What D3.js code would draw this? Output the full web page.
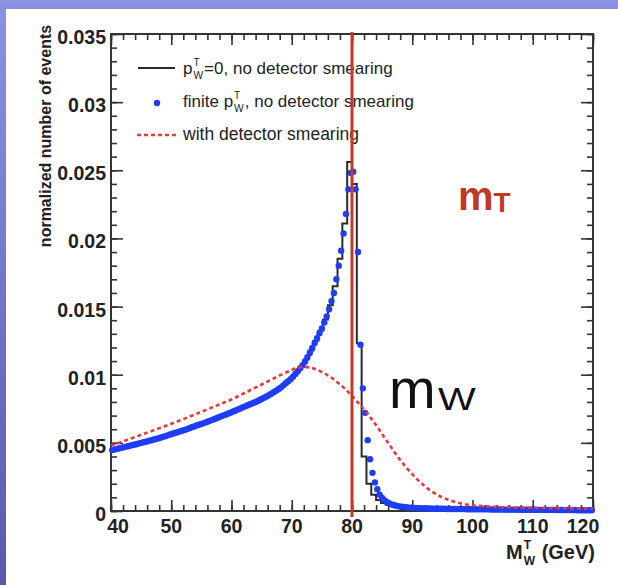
<!DOCTYPE html>
<html>
<head>
<meta charset="utf-8">
<script src="https://cdn.jsdelivr.net/npm/d3@7"></script>
<style>
  body { margin: 0; padding: 0; overflow: hidden; background: #fff; }
  text { font-family: "Liberation Sans", Arial, Helvetica, sans-serif; white-space: pre; }
</style>
</head>
<body>
<svg id="chart" width="618" height="585"></svg>
<script>
// finite pT, no detector smearing : bin centres 40.2, 40.6, ... (0.4 GeV bins)
var blueStart = 40.2, blueStep = 0.4;
var blueVals = [
  .00447,.00451,.00456,.00460,.00464,.00469,.00473,.00477,.00482,.00486,
  .00490,.00495,.00500,.00504,.00509,.00514,.00518,.00523,.00528,.00532,
  .00538,.00544,.00549,.00555,.00561,.00567,.00572,.00578,.00584,.00589,
  .00595,.00601,.00607,.00614,.00620,.00627,.00633,.00639,.00645,.00652,
  .00658,.00665,.00672,.00679,.00686,.00693,.00700,.00707,.00714,.00721,
  .00729,.00736,.00744,.00751,.00759,.00766,.00774,.00781,.00789,.00796,
  .00804,.00813,.00822,.00831,.00840,.00850,.00861,.00872,.00883,.00894,
  .00907,.00922,.00937,.00952,.00967,.00985,.01005,.01025,.01047,.01069,
  .01096,.01128,.01160,.01196,.01232,.01268,.01304,.01340,.01384,.01428,
  .01480,.01540,.01600,.01700,.01800,.01910,.02036,.02180,.02360,.02480,
  .02490,.02360,.01900,.01220,.00900,.00720,.00520,.00380,.00280,.00210,
  .00160,.00120,.00095,.00078,.00065,.00055,.00048,.00042,.00038,.00034,
  .00031,.00029,.00027,.00025,.00024,.00023,.00022,.00021,.00020,.00019,
  .00019,.00018,.00018,.00017,.00017,.00017,.00016,.00016,.00016,.00015,
  .00015,.00015,.00015,.00014,.00014,.00014,.00014,.00013,.00013,.00013,
  .00013,.00013,.00012,.00012,.00012,.00012,.00012,.00011,.00011,.00011,
  .00011,.00011,.00011,.00010,.00010,.00010,.00010,.00010,.00010,.00009,
  .00009,.00009,.00009,.00009,.00009,.00009,.00008,.00008,.00008,.00008,
  .00008,.00008,.00008,.00008,.00007,.00007,.00007,.00007,.00007,.00007,
  .00007,.00007,.00007,.00006,.00006,.00006,.00006,.00006,.00006,.00006
];

// pT = 0, no detector smearing : histogram, low edges 40, 40.8, ... (0.8 GeV bins)
var blackStart = 40, blackStep = 0.8;
var blackVals = [
  .00449,.00458,.00466,.00475,.00484,.00493,.00502,.00511,.00521,.00530,
  .00541,.00552,.00564,.00575,.00586,.00598,.00611,.00624,.00636,.00649,
  .00662,.00676,.00690,.00704,.00718,.00732,.00747,.00762,.00777,.00792,
  .00809,.00827,.00845,.00867,.00889,.00915,.00945,.00975,.01015,.01058,
  .01112,.01178,.01250,.01322,.01406,.01510,.01650,.01850,.02110,.02560,
  .02400,.01230,.00400,.00200,.00120,.00080,.00058,.00045,.00036,.00030,
  .00026,.00023,.00021,.00019,.00018,.00017,.00016,.00015,.00014,.00014,
  .00013,.00013,.00012,.00012,.00012,.00011,.00011,.00011,.00010,.00010,
  .00010,.00010,.00009,.00009,.00009,.00009,.00008,.00008,.00008,.00008,
  .00008,.00007,.00007,.00007,.00007,.00007,.00006,.00006,.00006,.00006
];

// with detector smearing : every 1 GeV from 40
var redStart = 40, redStep = 1;
var redVals = [
  .00480,.00495,.00511,.00527,.00543,.00559,.00575,.00591,.00607,.00623,
  .00640,.00657,.00674,.00692,.00710,.00728,.00746,.00764,.00782,.00800,
  .00818,.00840,.00862,.00884,.00906,.00928,.00950,.00972,.00995,.01015,
  .01035,.01050,.01058,.01052,.01040,.01020,.00995,.00965,.00930,.00890,
  .00845,.00795,.00745,.00690,.00630,.00565,.00500,.00435,.00375,.00320,
  .00270,.00225,.00185,.00150,.00122,.00100,.00082,.00068,.00057,.00048,
  .00042,.00038,.00035,.00032,.00030,.00028,.00027,.00026,.00025,.00024,
  .00023,.00022,.00022,.00021,.00021,.00020,.00020,.00019,.00019,.00018,.00018
];

var xTicks = [40, 50, 60, 70, 80, 90, 100, 110, 120];
var yTicks = [0, 0.005, 0.01, 0.015, 0.02, 0.025, 0.03, 0.035];
var yTickLabels = ["0", "0.005", "0.01", "0.015", "0.02", "0.025", "0.03", "0.035"];
var mT = 80;

var svg = d3.select("#chart");

// slide background
var grad = svg.append("defs").append("linearGradient")
    .attr("id", "bg").attr("x1", 0).attr("y1", 0).attr("x2", 0).attr("y2", 1);
grad.append("stop").attr("offset", "0%").attr("stop-color", "#8d92e0");
grad.append("stop").attr("offset", "100%").attr("stop-color", "#5859ad");
svg.append("rect").attr("width", 618).attr("height", 585).attr("fill", "url(#bg)");
svg.append("rect").attr("x", 6).attr("y", 9).attr("width", 612).attr("height", 576).attr("fill", "#fff");

var pLeft = 111, pRight = 593, pTop = 34, pBottom = 511;

var x = d3.scaleLinear().domain([40, 120]).range([pLeft, pRight]);
var y = d3.scaleLinear().domain([0, 0.035]).range([pBottom, pTop]);

var chart = svg.append("g");

//axes, ROOT style: ticks inside on all four sides
function tickAxis(axis, tr, vals, len) {
  var g = chart.append("g")
    .attr("transform", tr)
    .call(axis.tickValues(vals).tickSize(-len).tickSizeOuter(0).tickFormat(""));
  g.select(".domain").remove();
  g.selectAll("line").attr("stroke", "#333").attr("stroke-width", 1.6);
}
var minorX = d3.range(40, 121, 2);
var minorY = d3.range(0, 36).map(function(d) { return d / 1000; });

tickAxis(d3.axisBottom(x), "translate(0," + pBottom + ")", minorX, 6);
tickAxis(d3.axisBottom(x), "translate(0," + pBottom + ")", xTicks, 11);
tickAxis(d3.axisTop(x), "translate(0," + pTop + ")", minorX, 6);
tickAxis(d3.axisTop(x), "translate(0," + pTop + ")", xTicks, 11);
tickAxis(d3.axisLeft(y), "translate(" + pLeft + ",0)", minorY, 6);
tickAxis(d3.axisLeft(y), "translate(" + pLeft + ",0)", yTicks, 12);
tickAxis(d3.axisRight(y), "translate(" + pRight + ",0)", minorY, 6);
tickAxis(d3.axisRight(y), "translate(" + pRight + ",0)", yTicks, 12);

chart.append("rect")
  .attr("x", pLeft).attr("y", pTop)
  .attr("width", pRight - pLeft).attr("height", pBottom - pTop)
  .attr("fill", "none").attr("stroke", "#333").attr("stroke-width", 2);

// tick labels
chart.selectAll(".ylab")
  .data(yTicks)
  .enter().append("text")
  .attr("class", "ylab")
  .attr("x", pLeft - 5)
  .attr("y", function(d) { return y(d) + 10; })
  .attr("text-anchor", "end")
  .style("font-size", "19.5px").style("font-weight", "bold").attr("fill", "#222")
  .text(function(d, i) { return yTickLabels[i]; });

chart.selectAll(".xlab")
  .data(xTicks)
  .enter().append("text")
  .attr("class", "xlab")
  .attr("x", function(d, i) {
    if (i == 0) return x(d) + 7;
    if (i == xTicks.length - 1) return x(d) - 10;
    return x(d);
  })
  .attr("y", pBottom + 22)
  .attr("text-anchor", "middle")
  .style("font-size", "19.5px").style("font-weight", "bold").attr("fill", "#222")
  .text(function(d) { return d; });

// axis titles
chart.append("text")
  .attr("transform", "translate(51,136) rotate(-90)")
  .attr("text-anchor", "middle")
  .style("font-size", "16px").style("font-weight", "bold").attr("fill", "#222")
  .text("normalized number of events");

// text like  base^sup_sub rest
function stacked(g, x0, yb, base, sup, sub, rest, size, weight) {
  var t = g.append("text").attr("x", x0).attr("y", yb)
    .style("font-size", size + "px").style("font-weight", weight).attr("fill", "#222").text(base);
  var w = t.node().getComputedTextLength() + 1;
  var s1 = g.append("text").attr("x", x0 + w).attr("y", yb - size * 0.5)
    .style("font-size", (size * 0.6) + "px").style("font-weight", weight).attr("fill", "#222").text(sup);
  var s2 = g.append("text").attr("x", x0 + w).attr("y", yb + size * 0.3)
    .style("font-size", (size * 0.6) + "px").style("font-weight", weight).attr("fill", "#222").text(sub);
  w += Math.max(s1.node().getComputedTextLength(), s2.node().getComputedTextLength()) + 1;
  var r = g.append("text").attr("x", x0 + w).attr("y", yb)
    .style("font-size", size + "px").style("font-weight", weight).attr("fill", "#222").text(rest);
  return w + r.node().getComputedTextLength();
}

var xt = chart.append("g");
var xtw = stacked(xt, 0, 559, "M", "T", "W", " (GeV)", 20, "bold");
xt.attr("transform", "translate(" + (595 - xtw) + ",0)");

// data
var plot = chart.append("g");

var blackPts = blackVals.map(function(v, i) { return [blackStart + i * blackStep, v]; });
blackPts.push([120, blackVals[blackVals.length - 1]]);
plot.append("path")
  .datum(blackPts)
  .attr("d", d3.line()
    .x(function(d) { return x(d[0]); })
    .y(function(d) { return y(d[1]); })
    .curve(d3.curveStepAfter))
  .attr("fill", "none").attr("stroke", "#2a2a2a").attr("stroke-width", 2);

plot.selectAll("circle")
  .data(blueVals)
  .enter().append("circle")
  .attr("cx", function(d, i) { return x(blueStart + i * blueStep); })
  .attr("cy", function(d) { return y(d); })
  .attr("r", 3.2)
  .attr("fill", "#1f3df5");

plot.append("path")
  .datum(redVals)
  .attr("d", d3.line()
    .x(function(d, i) { return x(redStart + i * redStep); })
    .y(function(d) { return y(d); })
    .curve(d3.curveMonotoneX))
  .attr("fill", "none").attr("stroke", "#e33b3b").attr("stroke-width", 2.6)
  .attr("stroke-dasharray", "4,3");

// legend
var leg = chart.append("g");
leg.append("line").attr("x1", 138).attr("x2", 175).attr("y1", 68).attr("y2", 68)
  .attr("stroke", "#2a2a2a").attr("stroke-width", 2);
stacked(leg, 183, 74, "p", "T", "W", "=0, no detector smearing", 17, "normal");
leg.append("circle").attr("cx", 157).attr("cy", 103).attr("r", 3.2).attr("fill", "#1f3df5");
var w2 = leg.append("text").attr("x", 183).attr("y", 107)
  .style("font-size", "17px").attr("fill", "#222").text("finite ");
stacked(leg, 183 + w2.node().getComputedTextLength(), 107, "p", "T", "W", ", no detector smearing", 17, "normal");
leg.append("line").attr("x1", 137).attr("x2", 177).attr("y1", 135).attr("y2", 135)
  .attr("stroke", "#e33b3b").attr("stroke-width", 2.6).attr("stroke-dasharray", "4,3");
leg.append("text").attr("x", 183).attr("y", 140)
  .style("font-size", "17.5px").attr("fill", "#222").text("with detector smearing");

// slide annotations
svg.append("line")
  .attr("x1", x(mT)).attr("x2", x(mT)).attr("y1", pTop - 2).attr("y2", pBottom + 6)
  .attr("stroke", "#c23b22").attr("stroke-width", 3);

var ann1 = svg.append("text").attr("x", 458).attr("y", 210).attr("fill", "#bd3a26")
  .style("font-weight", "bold");
ann1.append("tspan").style("font-size", "40px").text("m");
ann1.append("tspan").style("font-size", "28px").attr("dy", 2).text("T");

svg.append("text").attr("x", 389).attr("y", 408).attr("fill", "#111")
  .style("font-size", "56px").text("m");
svg.append("text").attr("transform", "translate(438,410) scale(1.25,1)").attr("fill", "#111")
  .style("font-size", "32px").text("W");
</script>
</body>
</html>
